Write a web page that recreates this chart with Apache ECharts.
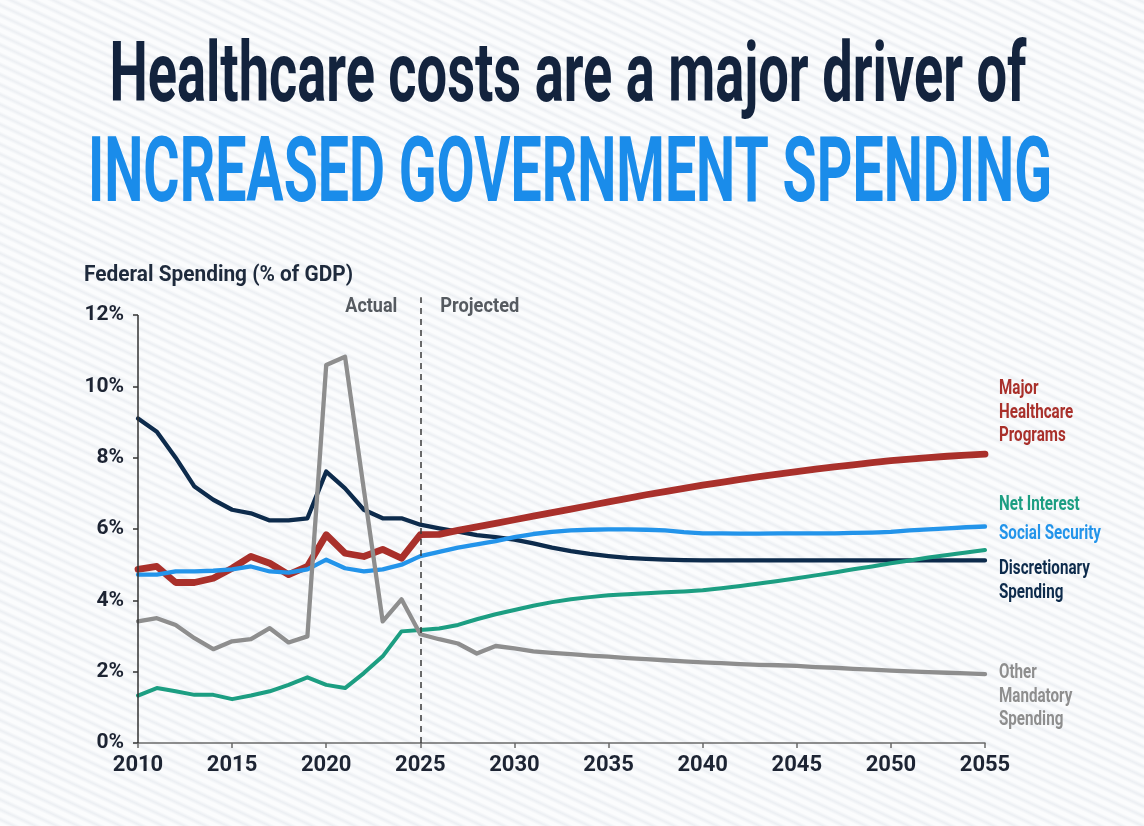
<!DOCTYPE html>
<html style="height: 100%">
<head>
<meta charset="utf-8">
<style>
  html, body { margin: 0; height: 100%; }
  body {
    background-color: #f6f7fa;
    background-image: repeating-linear-gradient(25deg, #fbfcfd 0px, #fbfcfd 3px, #eceff3 6px, #fbfcfd 9px);
  }
</style>
</head>
<body>
<div id="container" style="width: 1144px; height: 826px"></div>
<script src="https://cdn.jsdelivr.net/npm/echarts@6/dist/echarts.min.js"></script>
<script>
var years = ['2010','2011','2012','2013','2014','2015','2016','2017','2018','2019',
             '2020','2021','2022','2023','2024','2025','2026','2027','2028','2029',
             '2030','2031','2032','2033','2034','2035','2036','2037','2038','2039',
             '2040','2041','2042','2043','2044','2045','2046','2047','2048','2049',
             '2050','2051','2052','2053','2054','2055'];

// % of GDP
var discretionary = [9.10, 8.73, 8.00, 7.19, 6.82, 6.54, 6.44, 6.24, 6.24, 6.30,
                     7.61, 7.14, 6.54, 6.30, 6.30, 6.12, 6.02, 5.93, 5.83, 5.77,
                     5.70, 5.60, 5.48, 5.38, 5.30, 5.24, 5.19, 5.16, 5.14, 5.13,
                     5.12, 5.12, 5.12, 5.12, 5.12, 5.12, 5.12, 5.12, 5.12, 5.12,
                     5.12, 5.12, 5.12, 5.12, 5.12, 5.12];
var netInterest = [1.33, 1.54, 1.45, 1.35, 1.35, 1.23, 1.33, 1.45, 1.63, 1.84,
                   1.63, 1.54, 1.96, 2.43, 3.13, 3.17, 3.21, 3.31, 3.47, 3.61,
                   3.73, 3.85, 3.95, 4.03, 4.09, 4.14, 4.17, 4.20, 4.23, 4.25,
                   4.28, 4.34, 4.40, 4.47, 4.54, 4.62, 4.70, 4.78, 4.87, 4.95,
                   5.04, 5.12, 5.20, 5.27, 5.34, 5.41];
var healthcare = [4.87, 4.95, 4.50, 4.50, 4.62, 4.90, 5.23, 5.04, 4.72, 4.95,
                  5.84, 5.32, 5.23, 5.43, 5.18, 5.84, 5.85, 5.96, 6.06, 6.16,
                  6.26, 6.36, 6.46, 6.56, 6.66, 6.76, 6.86, 6.96, 7.05, 7.14,
                  7.23, 7.31, 7.39, 7.47, 7.54, 7.61, 7.68, 7.74, 7.80, 7.86,
                  7.92, 7.96, 8.00, 8.04, 8.07, 8.10];
var socialSecurity = [4.72, 4.72, 4.81, 4.81, 4.83, 4.87, 4.95, 4.81, 4.78, 4.87,
                      5.14, 4.90, 4.81, 4.87, 5.00, 5.24, 5.36, 5.48, 5.57, 5.66,
                      5.77, 5.86, 5.92, 5.96, 5.98, 5.99, 5.99, 5.98, 5.96, 5.91,
                      5.88, 5.88, 5.87, 5.87, 5.88, 5.88, 5.88, 5.88, 5.89, 5.90,
                      5.92, 5.96, 5.99, 6.02, 6.05, 6.07];
var otherMandatory = [3.41, 3.50, 3.31, 2.94, 2.63, 2.85, 2.91, 3.22, 2.82, 2.99,
                      10.60, 10.83, 7.10, 3.41, 4.03, 3.05, 2.91, 2.79, 2.51, 2.72,
                      2.65, 2.57, 2.53, 2.49, 2.45, 2.42, 2.38, 2.35, 2.32, 2.29,
                      2.26, 2.24, 2.21, 2.19, 2.18, 2.16, 2.13, 2.11, 2.08, 2.06,
                      2.03, 2.01, 1.99, 1.97, 1.95, 1.93];

var FONT = "'Liberation Sans Narrow', 'Roboto', sans-serif";
var measureCtx = document.createElement('canvas').getContext('2d');

// text squeezed horizontally to the width it has in the picture
function squeezed(text, x, y, size, weight, color, width, align) {
    measureCtx.font = weight + ' ' + size + 'px ' + FONT;
    var w = measureCtx.measureText(text).width;
    return {
        type: 'text', x: x, y: y, scaleX: width / w, z: 10,
        style: {
            text: text, fontSize: size, fontWeight: weight, fontFamily: FONT,
            fill: color, textAlign: align || 'left',
            textVerticalAlign: 'middle', verticalAlign: 'middle'
        }
    };
}

function sideLabel(lines, y, color, scale) {
    return lines.map(function (t, i) {
        return {
            type: 'text', x: 999, y: y + i * 23.5, scaleX: scale, z: 10,
            style: {
                text: t, fontSize: 21, fontWeight: 'bold', fontFamily: FONT, fill: color,
                textAlign: 'left', textVerticalAlign: 'middle', verticalAlign: 'middle'
            }
        };
    });
}

measureCtx.font = 'bold 21px ' + FONT;
var sideScale = 102 / measureCtx.measureText('Social Security').width;

var dom = document.getElementById('container');
var myChart = echarts.init(dom);

var C_NAVY = '#0d2b4c', C_TEAL = '#1c9e82', C_RED = '#a9302b', C_BLUE = '#2394ea', C_GRAY = '#8e8e8e';

function line(name, data, color, width) {
    return {
        name: name, type: 'line', data: data, symbol: 'none',
        lineStyle: { color: color, width: width, join: 'round', cap: 'round' },
        itemStyle: { color: color }
    };
}

// The value axis runs to 12.5 so the 2025 divider can rise above the 12% tick;
// its own axis line is hidden and redrawn from 0 to 12 as a mark line.
var guides = {
    name: 'guides', type: 'line', data: [], symbol: 'none',
    markLine: {
        silent: true,
        symbol: 'none',
        label: { show: false },
        lineStyle: { color: '#3a3a3a', width: 1.5, type: [6, 5] },
        data: [
            [{ coord: ['2025', 0] }, { coord: ['2025', 12.5] }],
            [{ coord: ['2010', 0], lineStyle: { type: 'solid', color: '#333', width: 1.5 } },
             { coord: ['2010', 12] }]
        ]
    }
};

var option = {
    backgroundColor: 'transparent',
    animation: false,
    grid: { left: 138, right: 159, top: 297.2, bottom: 83 },
    xAxis: {
        type: 'category',
        data: years,
        boundaryGap: false,
        axisLine: { lineStyle: { color: '#6a6a6a', width: 1.5 } },
        axisTick: { show: true, interval: 4, length: 5, lineStyle: { color: '#6a6a6a', width: 1.5 } },
        axisLabel: {
            interval: 4, margin: 11, fontSize: 22, fontWeight: 'bold',
            fontFamily: FONT, color: '#1d2433'
        },
        splitLine: { show: false }
    },
    yAxis: {
        type: 'value',
        min: 0, max: 12.5, interval: 2,
        axisLine: { show: false },
        axisTick: { show: true, length: 5, lineStyle: { color: '#333', width: 1.5 } },
        axisLabel: {
            formatter: '{value}%', margin: 14, fontSize: 21, fontWeight: 'bold',
            fontFamily: FONT, color: '#1d2433'
        },
        splitLine: { show: false }
    },
    series: [
        guides,
        line('Discretionary Spending', discretionary, C_NAVY, 4.3),
        line('Net Interest', netInterest, C_TEAL, 4),
        line('Major Healthcare Programs', healthcare, C_RED, 6.8),
        line('Social Security', socialSecurity, C_BLUE, 4.3),
        line('Other Mandatory Spending', otherMandatory, C_GRAY, 4.3)
    ],
    graphic: [
        squeezed('Healthcare costs are a major driver of', 568, 80, 83, 'bold', '#13233d', 917, 'center'),
        squeezed('INCREASED GOVERNMENT SPENDING', 570, 178, 90, 'bold', '#1a8cea', 964, 'center'),
        squeezed('Federal Spending (% of GDP)', 84, 275, 22, 'bold', '#1e2a3c', 269, 'left')
    ]
        .concat(sideLabel(['Major', 'Healthcare', 'Programs'], 389, C_RED, sideScale))
        .concat(sideLabel(['Net Interest'], 505, C_TEAL, sideScale))
        .concat(sideLabel(['Social Security'], 534, C_BLUE, sideScale))
        .concat(sideLabel(['Discretionary', 'Spending'], 569, C_NAVY, sideScale))
        .concat(sideLabel(['Other', 'Mandatory', 'Spending'], 673, C_GRAY, sideScale))
};

myChart.setOption(option);

// Actual / Projected sit either side of the 2025 divider
var x2025 = myChart.convertToPixel({ xAxisIndex: 0 }, '2025');
var g = option.graphic.slice();
g.push(squeezed('Actual', x2025 - 23, 307, 21, 'bold', '#555a60', 52, 'right'));
g.push(squeezed('Projected', x2025 + 20, 307, 21, 'bold', '#555a60', 79, 'left'));
myChart.setOption({ graphic: g });
</script>
</body>
</html>
